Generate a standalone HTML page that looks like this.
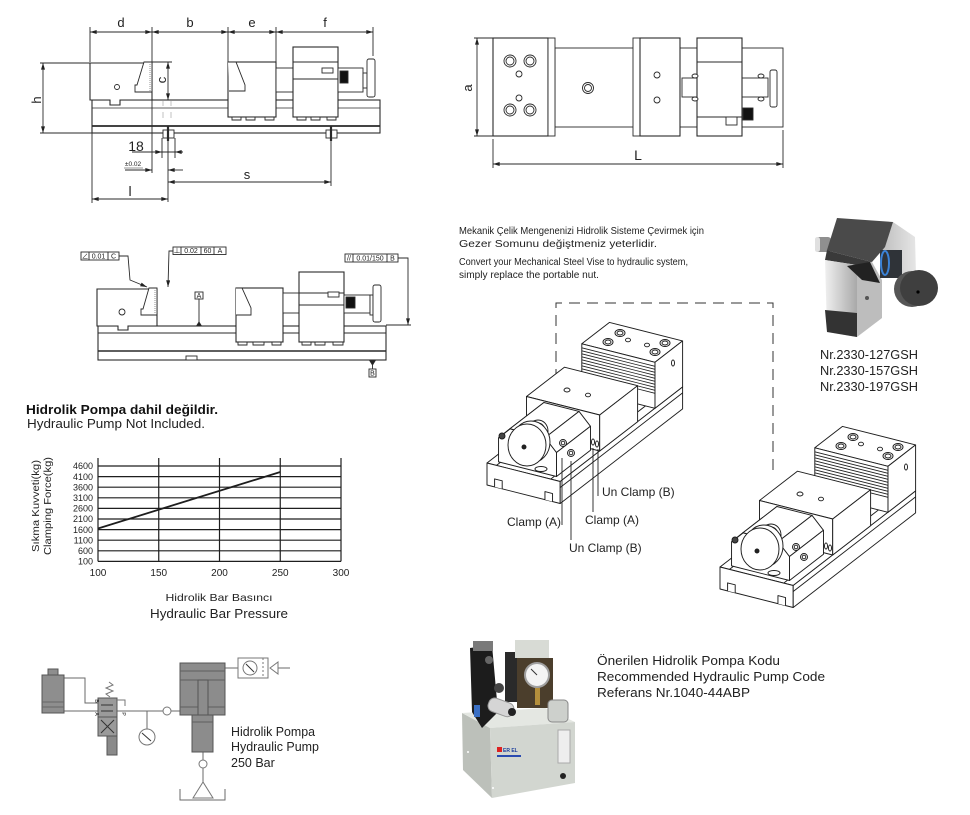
<!DOCTYPE html>
<html><head><meta charset="utf-8">
<style>html,body{margin:0;padding:0;background:#fff}svg{display:block}</style>
</head>
<body>
<svg xmlns="http://www.w3.org/2000/svg" width="970" height="815" viewBox="0 0 970 815" font-family="'Liberation Sans', Arial, 'Noto Sans CJK SC', sans-serif">
<defs>
<marker id="ar" viewBox="0 0 10 6" refX="10" refY="3" markerWidth="7" markerHeight="4" markerUnits="userSpaceOnUse" orient="auto-start-reverse"><path d="M0,0L10,3L0,6z" fill="#222"/></marker>
<linearGradient id="silver" x1="0" y1="0" x2="1" y2="0"><stop offset="0" stop-color="#f0f0f0"/><stop offset="1" stop-color="#a9a9a9"/></linearGradient>
<linearGradient id="silver2" x1="0" y1="0" x2="1" y2="0"><stop offset="0" stop-color="#bdbdbd"/><stop offset="1" stop-color="#e6e6e6"/></linearGradient>
<g id="vise" stroke="#1e1e1e" stroke-width="0.95" fill="#fff" stroke-linejoin="round">
  <path d="M0,0L122.5,-94.6L195.6,-76.1L73.2,18.5Z"/>
  <path d="M0,0L73.2,18.5L73.2,40.5L0,22Z"/>
  <path d="M73.2,18.5L195.6,-76.1L195.6,-54.1L73.2,40.5Z"/>
  <path fill="none" d="M73.2,24.5L195.6,-70.1M9.5,2.4L132,-92.2M63.7,16.1L186.2,-78.5"/>
  <path d="M7.6,23.9V15.9L15.2,17.8V25.8M57.95,36.6V28.6L65.55,30.6V38.6"/>
  <path d="M94.8,-119.2L122.5,-140.6L195.6,-122.1L168,-100.7Z"/>
  <path d="M94.8,-119.2L168,-100.7L168,-54.7L94.8,-73.2Z"/>
  <path d="M168,-100.7L195.6,-122.1L195.6,-76.1L168,-54.7Z"/>
  <path fill="none" stroke-width="0.8" d="M94.8,-115.2L168,-96.7M94.8,-112.2L168,-93.7M94.8,-109.2L168,-90.7M94.8,-106.2L168,-87.7M94.8,-103.2L168,-84.7M94.8,-100.2L168,-81.7M94.8,-97.2L168,-78.7M94.8,-94.2L168,-75.7M94.8,-91.2L168,-72.7M94.8,-88.2L168,-69.7"/>
  <ellipse cx="133" cy="-130" rx="5" ry="3.5"/><ellipse cx="133" cy="-130" rx="3" ry="2"/>
  <ellipse cx="121" cy="-121" rx="5" ry="3.5"/><ellipse cx="121" cy="-121" rx="3" ry="2"/>
  <ellipse cx="178" cy="-120" rx="5" ry="3.5"/><ellipse cx="178" cy="-120" rx="3" ry="2"/>
  <ellipse cx="168" cy="-111" rx="5" ry="3.5"/><ellipse cx="168" cy="-111" rx="3" ry="2"/>
  <ellipse cx="141" cy="-123" rx="2.5" ry="1.8"/><ellipse cx="160" cy="-118" rx="2.5" ry="1.8"/>
  <ellipse cx="186" cy="-100" rx="1.5" ry="3"/>
  <path d="M39.5,-66.5L77.4,-95.8L150.6,-77.3L112.7,-48Z"/>
  <path d="M39.5,-66.5L112.7,-48L112.7,-12L39.5,-30.5Z"/>
  <path d="M112.7,-48L150.6,-77.3L150.6,-41.3L112.7,-12Z"/>
  <ellipse cx="80" cy="-73" rx="3" ry="2"/><ellipse cx="101" cy="-68" rx="2.5" ry="1.8"/>
  <ellipse cx="106" cy="-21" rx="1.5" ry="3"/><ellipse cx="110" cy="-19" rx="1.5" ry="3"/>
  <path d="M11.55,-1.13L11.55,-25.13L22.95,-34.25L58.1,-25.37L69.5,-10.49L69.5,13.51Z"/>
  <path d="M11.55,-25.13L22.95,-34.25L56.92,-60.48L45.52,-51.36Z"/>
  <path d="M22.95,-34.25L58.1,-25.37L92.07,-51.6L56.92,-60.48Z"/>
  <path d="M58.1,-25.37L69.5,-10.49L103.47,-36.72L92.07,-51.6Z"/>
  <path d="M69.5,-10.49L69.5,13.51L103.47,-12.72L103.47,-36.72Z"/>
  <circle cx="76" cy="-20" r="3.5"/><circle cx="76" cy="-20" r="1.8"/>
  <circle cx="84" cy="-10" r="3.5"/><circle cx="84" cy="-10" r="1.8"/>
  <circle cx="15" cy="-27" r="3" fill="#444"/>
  <ellipse cx="51" cy="-32" rx="10" ry="11"/>
  <ellipse cx="51" cy="-32" rx="7" ry="8"/>
  <path d="M36,-34L46,-42L62,-24L48,-14Z"/>
  <ellipse cx="44" cy="-21" rx="19" ry="21"/>
  <ellipse cx="40" cy="-18" rx="19" ry="21"/>
  <circle cx="37" cy="-16" r="2" fill="#222"/>
  <ellipse cx="54" cy="6" rx="6" ry="2.5"/>
</g>
</defs>

<!-- ================= TOP LEFT DRAWING ================= -->
<g stroke="#2a2a2a" stroke-width="0.9" fill="none">
  <path d="M90,27V62M152,27V62M228,27V62M276,27V62M373,27V56"/>
  <line x1="90" y1="32" x2="152" y2="32" marker-start="url(#ar)" marker-end="url(#ar)"/>
  <line x1="152" y1="32" x2="228" y2="32" marker-start="url(#ar)" marker-end="url(#ar)"/>
  <line x1="228" y1="32" x2="276" y2="32" marker-start="url(#ar)" marker-end="url(#ar)"/>
  <line x1="276" y1="32" x2="373" y2="32" marker-start="url(#ar)" marker-end="url(#ar)"/>
  <path d="M40,63H90M40,133H92"/>
  <line x1="43" y1="63" x2="43" y2="133" marker-start="url(#ar)" marker-end="url(#ar)"/>
  <rect x="92" y="100" width="288" height="33" fill="#fff" stroke-width="1.1"/>
  <line x1="92" y1="108" x2="380" y2="108" stroke-width="0.7"/>
  <line x1="92" y1="126" x2="380" y2="126" stroke-width="1.7"/>
  <path d="M90,63H152V100H120V105H110V100H90Z" fill="#fff" stroke-width="1.1"/>
  <path d="M144,62H152V92H135V85H137Z" fill="#fff"/>
  <line x1="150" y1="64" x2="150" y2="91" stroke-dasharray="1 1" stroke="#888"/>
  <circle cx="117" cy="87" r="2.5"/>
  <path d="M152,62H172"/>
  <line x1="168" y1="62" x2="168" y2="100" marker-start="url(#ar)" marker-end="url(#ar)"/>
  <path d="M163,101V106M171,101V106M163,112V118M171,112V118" stroke="#999" stroke-width="0.6"/>
  <rect x="228" y="62" width="48" height="55" fill="#fff" stroke-width="1.1"/>
  <path d="M228,62H236L245,85V91H229" fill="#fff"/>
  <path d="M232,117h9v3h-9zM246,117h9v3h-9zM265,117h9v3h-9z" fill="#fff"/>
  <rect x="276" y="68" width="17" height="24" fill="#fff"/>
  <rect x="293" y="47" width="45" height="70" fill="#fff" stroke-width="1.1"/>
  <path d="M293,62H338M293,79H338"/>
  <path d="M297,117h9v3h-9zM311,117h9v3h-9zM327,117h9v3h-9z" fill="#fff"/>
  <rect x="338" y="68" width="25" height="24" fill="#fff"/>
  <rect x="340" y="71" width="8" height="12" fill="#111"/>
  <rect x="322" y="68" width="11" height="5" fill="#fff"/>
  <rect x="363" y="73" width="4" height="15" fill="#fff"/>
  <rect x="367" y="59" width="8" height="38" rx="2" fill="#fff"/>
  <rect x="163" y="130" width="11" height="8" fill="#fff"/>
  <line x1="168" y1="126" x2="168" y2="141" stroke-width="2.2"/>
  <rect x="326" y="130" width="11" height="8" fill="#fff"/>
  <line x1="331" y1="126" x2="331" y2="141" stroke-width="2.2"/>
  <path d="M152,100V173M168,141V202M92,133V203M331,141V186M162,138V158M175,138V158"/>
  <line x1="132" y1="152" x2="183" y2="152"/>
  <line x1="140" y1="152" x2="162" y2="152" marker-end="url(#ar)"/>
  <line x1="183" y1="152" x2="175" y2="152" marker-end="url(#ar)"/>
  <line x1="125" y1="170" x2="152" y2="170" marker-end="url(#ar)"/>
  <line x1="183" y1="170" x2="168" y2="170" marker-end="url(#ar)"/>
  <line x1="168" y1="182" x2="331" y2="182" marker-start="url(#ar)" marker-end="url(#ar)"/>
  <line x1="92" y1="199" x2="168" y2="199" marker-start="url(#ar)" marker-end="url(#ar)"/>
  <line x1="124" y1="168" x2="143" y2="168" stroke-width="0.5"/>
</g>
<g font-size="13" fill="#222" text-anchor="middle">
  <text x="121" y="27">d</text><text x="190" y="27">b</text><text x="252" y="27">e</text><text x="325" y="27">f</text>
  <text transform="translate(41,100) rotate(-90)">h</text>
  <text transform="translate(166,80) rotate(-90)">c</text>
  <text x="136" y="151" font-size="14">18</text>
  <text x="247" y="179">s</text>
  <text x="130" y="196" font-size="14">l</text>
  <text x="133" y="166" font-size="6.5">±0.02</text>
</g>

<!-- ================= TOP RIGHT DRAWING ================= -->
<g stroke="#2a2a2a" stroke-width="0.9" fill="#fff">
  <rect x="555" y="48" width="228" height="79"/>
  <rect x="493" y="38" width="55" height="98" stroke-width="1.1"/>
  <rect x="548" y="38" width="7" height="98"/>
  <circle cx="510" cy="61" r="6"/><circle cx="510" cy="61" r="4"/>
  <circle cx="530" cy="61" r="6"/><circle cx="530" cy="61" r="4"/>
  <circle cx="510" cy="110" r="6"/><circle cx="510" cy="110" r="4"/>
  <circle cx="530" cy="110" r="6"/><circle cx="530" cy="110" r="4"/>
  <circle cx="519" cy="74" r="3"/><circle cx="519" cy="98" r="3"/>
  <circle cx="588" cy="88" r="5.5"/><circle cx="588" cy="88" r="3.5"/>
  <rect x="633" y="38" width="7" height="98"/>
  <rect x="640" y="38" width="40" height="98" stroke-width="1.1"/>
  <circle cx="657" cy="75" r="3"/><circle cx="657" cy="100" r="3"/>
  <rect x="682" y="78" width="15" height="19"/>
  <rect x="742" y="78" width="26" height="19"/>
  <rect x="697" y="38" width="45" height="98" stroke-width="1.1"/>
  <path d="M697,62H742M697,117H742" fill="none"/>
  <ellipse cx="695" cy="76" rx="3" ry="2"/><ellipse cx="695" cy="99" rx="3" ry="2"/>
  <ellipse cx="761" cy="76" rx="3" ry="2"/><ellipse cx="761" cy="99" rx="3" ry="2"/>
  <rect x="770" y="70" width="7" height="37" rx="2"/>
  <rect x="743" y="108" width="10" height="12" fill="#111"/>
  <rect x="726" y="117" width="11" height="8"/>
  <g fill="none">
    <path d="M474,38H493M474,136H493M493,139V168M783,130V168"/>
    <line x1="477" y1="38" x2="477" y2="136" marker-start="url(#ar)" marker-end="url(#ar)"/>
    <line x1="493" y1="164" x2="783" y2="164" marker-start="url(#ar)" marker-end="url(#ar)"/>
  </g>
</g>
<text transform="translate(472,88) rotate(-90)" font-size="13" text-anchor="middle" fill="#222">a</text>
<text x="638" y="160" font-size="14" text-anchor="middle" fill="#222">L</text>

<!-- ================= MIDDLE LEFT (GD&T) ================= -->
<g stroke="#2a2a2a" stroke-width="0.9" fill="#fff">
  <rect x="98" y="326" width="288" height="34" stroke-width="1.1"/>
  <line x1="98" y1="333" x2="386" y2="333"/>
  <line x1="98" y1="351" x2="386" y2="351" stroke-width="1.6"/>
  <rect x="186" y="356" width="11" height="4"/>
  <path d="M97,289H157V326H128V330H118V326H97Z" stroke-width="1.1"/>
  <path d="M149,288H157V315H141V309H143Z"/>
  <line x1="155" y1="290" x2="155" y2="314" stroke="#888" stroke-dasharray="1 1"/>
  <circle cx="122" cy="312" r="3"/>
  <rect x="236" y="288" width="47" height="54" stroke-width="1.1"/>
  <path d="M236,288H242L251,308V315H236"/>
  <path d="M238,342h9v3h-9zM253,342h11v3h-11zM272,342h9v3h-9z"/>
  <rect x="283" y="293" width="16" height="20"/>
  <rect x="299" y="272" width="45" height="70" stroke-width="1.1"/>
  <path d="M299,293H344M299,305H344" fill="none"/>
  <path d="M302,342h9v3h-9zM315,342h10v3h-10zM333,342h10v3h-10z"/>
  <rect x="328" y="292" width="11" height="5"/>
  <rect x="344" y="295" width="26" height="18"/>
  <rect x="346" y="297" width="9" height="11" fill="#111"/>
  <rect x="370" y="295" width="3" height="20"/>
  <rect x="373" y="285" width="8" height="37" rx="2"/>
  <rect x="81" y="252" width="38" height="8"/><path d="M89,252V260M108,252V260" fill="none"/>
  <rect x="173" y="247" width="53" height="7.5"/><path d="M181,247V254.5M201,247V254.5M214,247V254.5" fill="none"/>
  <rect x="345" y="254" width="53" height="8"/><path d="M353,254V262M387,254V262" fill="none"/>
  <rect x="195" y="292" width="8" height="7"/>
  <rect x="369" y="369" width="7" height="8"/>
  <g fill="none">
    <path d="M119,256H128L130,280L147,287" marker-end="url(#ar)"/>
    <path d="M173,251H169L168,287" marker-end="url(#ar)"/>
    <path d="M398,258H408V325" marker-end="url(#ar)"/>
    <path d="M386,325H411M199,299V325M372.5,361V369"/>
  </g>
  <path d="M196.5,326L199,322L201.5,326Z" fill="#222"/>
  <path d="M370,361L372.5,365L375,361Z" fill="#222"/>
</g>
<g font-size="7" fill="#222" text-anchor="middle">
  <text x="85" y="258.5">∠</text><text x="98.5" y="258.5">0.01</text><text x="113.5" y="258.5">C</text>
  <text x="177" y="253">⊥</text><text x="191" y="253">0.02</text><text x="207.5" y="253">60</text><text x="220" y="253">A</text>
  <text x="349" y="260.5">//</text><text x="370" y="260.5">0.01/150</text><text x="392.5" y="260.5">B</text>
  <text x="199" y="298">A</text>
  <text x="372.5" y="375.5">B</text>
</g>

<!-- ================= TEXT BLOCKS ================= -->
<g fill="#222" font-size="9.8">
  <text x="459" y="234" textLength="245" lengthAdjust="spacingAndGlyphs">Mekanik Çelik Mengenenizi Hidrolik Sisteme Çevirmek için</text>
  <text x="459" y="247" textLength="198" lengthAdjust="spacingAndGlyphs">Gezer Somunu değiştmeniz yeterlidir.</text>
  <text x="459" y="265" textLength="229" lengthAdjust="spacingAndGlyphs">Convert your Mechanical Steel Vise to hydraulic system,</text>
  <text x="459" y="278" textLength="140" lengthAdjust="spacingAndGlyphs">simply replace the portable nut.</text>
</g>
<text x="26" y="414" font-size="13" font-weight="bold" fill="#111" textLength="192" lengthAdjust="spacingAndGlyphs">Hidrolik Pompa dahil değildir.</text>
<text x="27" y="428" font-size="13" fill="#222" textLength="178" lengthAdjust="spacingAndGlyphs">Hydraulic Pump Not Included.</text>

<!-- ================= CHART ================= -->
<g stroke="#1e1e1e" stroke-width="1.2" fill="none">
  <path d="M98,466H341M98,476.6H341M98,487.2H341M98,497.8H341M98,508.4H341M98,519H341M98,529.6H341M98,540.2H341M98,550.8H341M98,561.4H341"/>
  <path d="M98,458V561.4M158.75,458V561.4M219.5,458V561.4M280.25,458V561.4M341,458V561.4"/>
  <line x1="98" y1="528.5" x2="280.25" y2="472" stroke-width="1.8"/>
</g>
<g font-size="9" fill="#222" text-anchor="end">
  <text x="93" y="469.2">4600</text><text x="93" y="479.8">4100</text><text x="93" y="490.4">3600</text>
  <text x="93" y="501">3100</text><text x="93" y="511.6">2600</text><text x="93" y="522.2">2100</text>
  <text x="93" y="532.8">1600</text><text x="93" y="543.4">1100</text><text x="93" y="554">600</text>
  <text x="93" y="564.6">100</text>
</g>
<g font-size="10" fill="#222" text-anchor="middle">
  <text x="98" y="576">100</text><text x="158.75" y="576">150</text><text x="219.5" y="576">200</text>
  <text x="280.25" y="576">250</text><text x="341" y="576">300</text>
</g>
<text transform="translate(39,506) rotate(-90)" font-size="10.5" fill="#222" text-anchor="middle" textLength="92" lengthAdjust="spacingAndGlyphs">Sıkma Kuvveti(kg)</text>
<text transform="translate(51,506) rotate(-90)" font-size="10.5" fill="#222" text-anchor="middle" textLength="98" lengthAdjust="spacingAndGlyphs">Clamping Force(kg)</text>
<text x="219" y="601" font-size="10.5" fill="#222" text-anchor="middle" textLength="107" lengthAdjust="spacingAndGlyphs">Hidrolik Bar Basıncı</text>
<text x="219" y="618" font-size="13" fill="#222" text-anchor="middle" textLength="138" lengthAdjust="spacingAndGlyphs">Hydraulic Bar Pressure</text>

<!-- ================= HYDRAULIC SCHEMATIC ================= -->
<g stroke="#6a6a6a" stroke-width="1" fill="none">
  <path d="M64,678H85V703H98M64,711H98"/>
  <path d="M117,711H163M171,711H180M147,711V729M225,668H238M203,752V760M203,768V782"/>
  <path d="M278,668H290"/>
  <path d="M180,789V800H225V789"/>
</g>
<g stroke="#555" stroke-width="1">
  <rect x="42" y="675" width="22" height="38" fill="#8e8e8e"/>
  <rect x="48" y="669" width="10" height="6" fill="#8e8e8e"/>
  <path d="M42,702H64M42,707H64" stroke="#666"/>
  <rect x="98" y="698" width="19" height="19" fill="#9a9a9a"/>
  <rect x="98" y="717" width="19" height="19" fill="#9a9a9a"/>
  <rect x="107" y="736" width="10" height="19" fill="#8a8a8a"/>
  <path d="M101,720L114,733M114,720L101,733M101,705H113M113,711H101" stroke="#333" fill="none"/>
  <path d="M110,697L106,694L113,691L106,688L113,685L109,682" fill="none" stroke="#777"/>
  <path d="M117,700H125V706" fill="none" stroke="#777"/>
  <rect x="180" y="663" width="45" height="52" fill="#8c8c8c"/>
  <path d="M180,671H225M180,680H225M180,707H198M208,707H225" stroke="#5e5e5e" fill="none"/>
  <rect x="198" y="680" width="10" height="35" fill="#8c8c8c"/>
  <rect x="192" y="715" width="21" height="37" fill="#8c8c8c"/>
  <path d="M192,722H213" stroke="#5e5e5e"/>
</g>
<g stroke="#777" stroke-width="1" fill="#fff">
  <circle cx="167" cy="711" r="4"/>
  <circle cx="203" cy="764" r="4"/>
  <circle cx="147" cy="737" r="8"/>
  <line x1="142" y1="733" x2="151" y2="741" stroke="#333"/>
  <rect x="238" y="658" width="30" height="20"/>
  <line x1="263" y1="658" x2="263" y2="678" stroke-dasharray="2 2"/>
  <circle cx="250" cy="668" r="7"/>
  <line x1="246" y1="664" x2="254" y2="672" stroke="#333"/>
  <path d="M270,668L278,662V674Z"/>
  <path d="M203,782L193,798H213Z"/>
</g>
<g font-size="5" fill="#222" text-anchor="middle">
  <text transform="translate(95,701) rotate(90)">B</text>
  <text transform="translate(95,714) rotate(90)">A</text>
  <text transform="translate(122,714) rotate(90)">P</text>
</g>
<g font-size="12.5" fill="#222">
  <text x="231" y="736" textLength="84" lengthAdjust="spacingAndGlyphs">Hidrolik Pompa</text>
  <text x="231" y="751" textLength="88" lengthAdjust="spacingAndGlyphs">Hydraulic Pump</text>
  <text x="231" y="767">250 Bar</text>
</g>

<!-- ================= ISO VISES ================= -->
<path d="M556,398V303H773V470" fill="none" stroke="#333" stroke-width="1" stroke-dasharray="11 7"/>
<use href="#vise" x="487" y="463"/>
<use href="#vise" x="720" y="567"/>
<g stroke="#222" stroke-width="0.9" fill="none">
  <path d="M562,458V525M571,461V540M593,448V512M598,449V496"/>
</g>
<g font-size="12" fill="#222">
  <text x="602" y="496">Un Clamp (B)</text>
  <text x="507" y="526">Clamp (A)</text>
  <text x="585" y="524">Clamp (A)</text>
  <text x="569" y="552">Un Clamp (B)</text>
</g>

<!-- ================= NUT PHOTO ================= -->
<g>
  <rect x="815" y="237" width="16" height="15" rx="3" fill="#8f8f8f"/>
  <rect x="815" y="237" width="5" height="15" rx="2.5" fill="#e0e0e0"/>
  <polygon points="885,224 893,222 915,237 916,275 893,272 880,262" fill="url(#silver2)"/>
  <polygon points="837,218 893,222 885,247 872,262 833,252 827,250" fill="#4a4a4a"/>
  <polygon points="825,260 827,250 833,252 872,262 857,265" fill="#3a3a3a"/>
  <polygon points="825,260 857,265 857,337 827,332" fill="url(#silver)"/>
  <polygon points="857,265 872,262 882,280 882,318 857,337" fill="#bdbdbd"/>
  <circle cx="867" cy="298" r="2" fill="#555"/>
  <polygon points="825,310 857,313 857,337 827,332" fill="#333"/>
  <polygon points="847,266 870,262 880,283 862,280" fill="#222"/>
  <rect x="880" y="250" width="22" height="28" fill="#2f3338"/>
  <ellipse cx="885" cy="263" rx="4" ry="12" fill="none" stroke="#3b82d6" stroke-width="2"/>
  <ellipse cx="912" cy="289" rx="18" ry="18" fill="#555"/>
  <ellipse cx="919" cy="288" rx="19" ry="18" fill="#3f3f3f"/>
  <circle cx="918" cy="292" r="1.6" fill="#000"/>
</g>
<g font-size="13" fill="#222">
  <text x="820" y="359" textLength="98" lengthAdjust="spacingAndGlyphs">Nr.2330-127GSH</text>
  <text x="820" y="375" textLength="98" lengthAdjust="spacingAndGlyphs">Nr.2330-157GSH</text>
  <text x="820" y="391" textLength="98" lengthAdjust="spacingAndGlyphs">Nr.2330-197GSH</text>
</g>

<!-- ================= PUMP PHOTO ================= -->
<g>
  <polygon points="462,713 490,728 492,798 463,770" fill="#bcc0ba"/>
  <polygon points="462,713 545,708 575,722 490,728" fill="#e4e7e2"/>
  <polygon points="490,728 575,722 575,783 492,798" fill="#d2d6d0"/>
  <polygon points="470,648 492,645 498,712 482,728 472,712" fill="#1c1c1c"/>
  <rect x="473" y="641" width="20" height="10" fill="#7a7a7a"/>
  <circle cx="489" cy="660" r="4" fill="#666"/>
  <circle cx="499" cy="688" r="5" fill="#444"/>
  <rect x="505" y="652" width="14" height="50" fill="#2a2a2a"/>
  <rect x="515" y="640" width="34" height="18" fill="#d8dbd5"/>
  <rect x="517" y="658" width="36" height="50" fill="#4b3e2c"/>
  <circle cx="537" cy="675" r="12" fill="#f4f4f4" stroke="#a0a0a0" stroke-width="2"/>
  <line x1="537" y1="675" x2="531" y2="669" stroke="#333" stroke-width="1"/>
  <rect x="535" y="688" width="5" height="17" fill="#b48f3c"/>
  <rect x="548" y="700" width="20" height="22" rx="4" fill="#cdd0cc" stroke="#888"/>
  <g transform="rotate(20 500 707)"><rect x="488" y="700" width="26" height="14" rx="6" fill="#d5d5d5" stroke="#999"/></g>
  <circle cx="512" cy="712" r="4" fill="#222"/>
  <rect x="474" y="705" width="6" height="12" fill="#3a6fc4"/>
  <rect x="497" y="747" width="5" height="5" fill="#d22"/>
  <text x="503" y="752" font-size="5" fill="#1a3c9c" font-weight="bold">ER EL</text>
  <rect x="497" y="755" width="24" height="2" fill="#2a4ab0"/>
  <rect x="558" y="730" width="12" height="33" fill="#eee" stroke="#aaa"/>
  <circle cx="563" cy="776" r="3" fill="#222"/>
  <circle cx="468" cy="752" r="1" fill="#fff"/><circle cx="493" cy="788" r="1" fill="#fff"/>
</g>
<g font-size="13" fill="#222">
  <text x="597" y="665" textLength="183" lengthAdjust="spacingAndGlyphs">Önerilen Hidrolik Pompa Kodu</text>
  <text x="597" y="681" textLength="228" lengthAdjust="spacingAndGlyphs">Recommended Hydraulic Pump Code</text>
  <text x="597" y="697" textLength="153" lengthAdjust="spacingAndGlyphs">Referans Nr.1040-44ABP</text>
</g>
</svg>
</body></html>
